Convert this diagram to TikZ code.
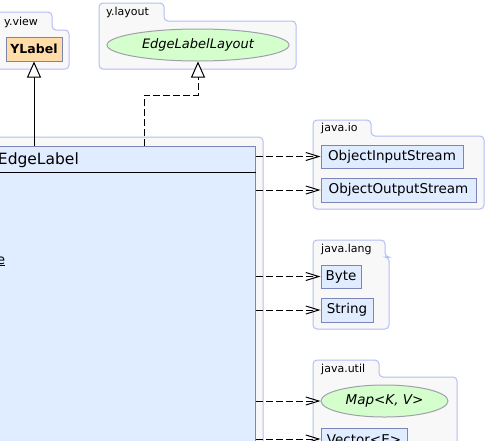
\documentclass[tikz,border=0pt]{standalone}
\usepackage{fontspec}
\setmainfont{DejaVu Sans}
\usetikzlibrary{arrows.meta,shapes.geometric}
\definecolor{pkgfill}{HTML}{F8F8F8}
\definecolor{pkgdraw}{HTML}{B4BEF6}
\definecolor{clsfill}{HTML}{E0ECFF}
\definecolor{clsdraw}{HTML}{7C84B8}
\definecolor{ifill}{HTML}{FFDCA8}
\definecolor{efill}{HTML}{D4FFCC}
\definecolor{edraw}{HTML}{A0A0AC}
\newcommand\umlpkg[6]{%
  \filldraw[pkg] (#1,#4) -- (#1,#2) -- (#3,#2) -- (#3,#4) -- (#5,#4) -- (#5,#6) -- (#1,#6) -- cycle;}
\tikzset{
  pkg/.style={fill=pkgfill, draw=pkgdraw, line width=1pt, rounded corners=4pt},
  pkglabel/.style={font=\fontsize{11}{13}\selectfont, inner sep=0pt},
  cls/.style={rectangle, fill=clsfill, draw=clsdraw, line width=1pt, inner sep=1pt,
    font=\fontsize{13.5}{16}\selectfont},
  iface/.style={rectangle, fill=ifill, draw=clsdraw!80!gray, line width=1pt, inner sep=1pt,
    font=\bfseries\fontsize{12.5}{15}\selectfont},
  ell/.style={ellipse, fill=efill, draw=edraw, line width=1pt, inner sep=0pt,
    font=\itshape\fontsize{13}{15}\selectfont},
  dep/.style={dash pattern=on 7pt off 3pt, line width=1pt, -{Straight Barb[length=13pt,width=8pt]}},
  inh/.style={line width=1pt, -{Triangle[open,length=16pt,width=14pt,fill=white]}},
  real/.style={dash pattern=on 7pt off 3pt, line width=1pt, -{Triangle[open,length=16pt,width=14pt,fill=white]}},
}
\begin{document}
\begin{tikzpicture}[x=1pt,y=-1pt]
\useasboundingbox (0,0) rectangle (487,440);
\clip (0,0) rectangle (487,440);
\fill[white] (0,0) rectangle (487,440);

% packages
\umlpkg{-6}{12}{52}{30}{69}{69}
\node[pkglabel, anchor=base west] (pview) at (4,25) {y.view};
\umlpkg{99}{3}{164}{21}{296}{69}
\node[pkglabel, anchor=base west] (playout) at (106,15) {y.layout};
\umlpkg{313}{120}{371}{136}{484}{209}
\node[pkglabel, anchor=base west] (pio) at (321,131) {java.io};
\umlpkg{313}{240}{385}{257}{389}{329}
\node[pkglabel, anchor=base west] (plang) at (321,252) {java.lang};
\umlpkg{313}{360}{379}{377}{457}{520}
\node[pkglabel, anchor=base west] (putil) at (321,372) {java.util};
\filldraw[pkg] (-40,137) rectangle (263,620);

% main class
\node[cls, minimum width=456pt, minimum height=454pt, anchor=north east] (cls) at (256,146) {};
\draw[line width=1pt] ([yshift=-26pt]cls.north west) -- ([yshift=-26pt]cls.north east);
\node[anchor=base east, inner sep=0pt, font=\fontsize{15.5}{18}\selectfont] (clsname) at (79,164) {EdgeLabel};
\node[anchor=base east, inner sep=0pt, font=\fontsize{13.5}{16}\selectfont] (attr) at (5.5,264) {\underline{e}};

% other classes
\node[iface, minimum width=56pt, minimum height=24pt] (ylab) at (34,49) {YLabel};
\node[ell, minimum width=182pt, minimum height=32pt] (ell) at (198,45) {EdgeLabelLayout};
\node[cls, minimum width=142pt, minimum height=23pt] (oin) at (392,156.5) {ObjectInputStream};
\node[cls, minimum width=155pt, minimum height=24pt] (oout) at (398.5,190) {ObjectOutputStream};
\node[cls, minimum width=40pt, minimum height=23pt] (byte) at (341,276.5) {Byte};
\node[cls, minimum width=52pt, minimum height=24pt] (str) at (347,310) {String};
\node[ell, minimum width=127pt, minimum height=32pt, font=\itshape\fontsize{13.5}{16}\selectfont] (map) at (384.5,401) {Map<K, V>};
\node[cls, minimum width=86pt, minimum height=24pt] (vec) at (364,440) {Vector<E>};

% connectors
\draw[inh] (ylab.south |- cls.north) -- (ylab.south);
\coordinate (r1) at (144,95);
\draw[real] (cls.north -| r1) -- (r1) -| (ell.south);
\draw[dep] (cls.east |- oin.west) -- (oin.west);
\draw[dep] (cls.east |- oout.west) -- (oout.west);
\draw[dep] (cls.east |- byte.west) -- (byte.west);
\draw[dep] (cls.east |- str.west) -- (str.west);
\draw[dep] (cls.east |- map.west) -- (map.west);
\draw[dep] ([yshift=1pt]cls.east |- vec.west) -- ([yshift=1pt]vec.west);
\end{tikzpicture}
\end{document}
